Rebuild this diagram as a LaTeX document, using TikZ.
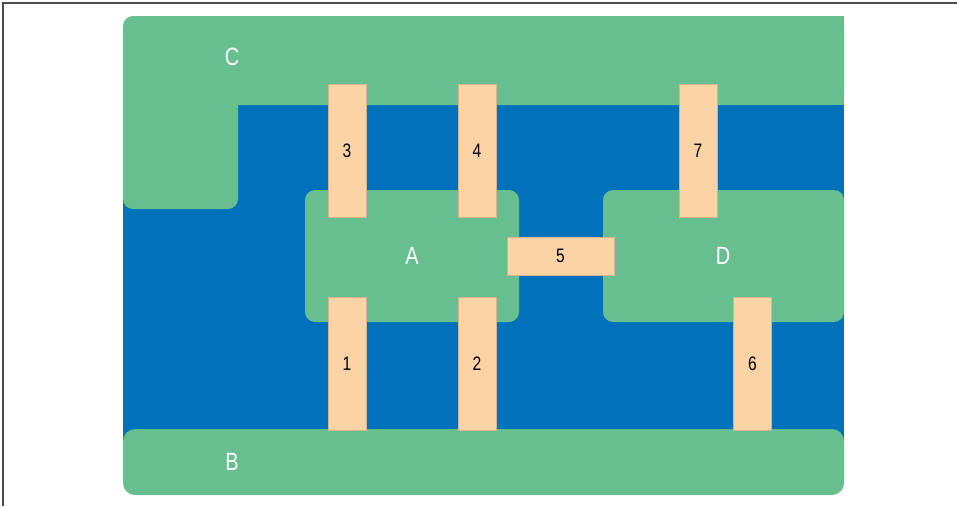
\documentclass[tikz,border=0pt]{standalone}
\usepackage{fontspec}
\setmainfont{Liberation Sans}[FakeStretch=0.8]
\definecolor{land}{RGB}{103,190,143}
\definecolor{water}{RGB}{0,114,188}
\definecolor{bridgec}{RGB}{252,211,165}
\tikzset{
  region/.style={fill=land, rounded corners=11pt},
  bridgebox/.style={rectangle, fill=bridgec, draw=bridgec!85!black, line width=0.3pt, inner sep=0pt,
    font=\fontsize{19.5}{20}\selectfont, text=black},
  vbridge/.style={bridgebox, minimum width=38pt, minimum height=133pt},
  lab/.style={font=\fontsize{25}{26}\selectfont, text=white, inner sep=0pt}
}
\begin{document}
\begin{tikzpicture}[x=1pt,y=-1pt]
\useasboundingbox (0,0) rectangle (957,506);
% frame (top and left only)
\draw[black!70, line width=1.3pt] (3,506) -- (3,3) -- (957,3);
% water
\fill[water] (123,95) rectangle (844,445);
% C
\fill[region, rounded corners=12pt] (123,16) rectangle (844,105);
\fill[land] (600,16) rectangle (844,105);
\fill[region, rounded corners=10pt] (123,16) rectangle (238,209);
\fill[land] (123,40) rectangle (238,150);
% B
\fill[region, rounded corners=12pt] (123,429) rectangle (844,495);
% A, D
\fill[region, rounded corners=10pt] (305,190) rectangle (519,322);
\fill[region, rounded corners=10pt] (603,190) rectangle (844,322);
% labels
\node[lab] (C) at (232,57) {C};
\node[lab] (B) at (232,462) {B};
\node[lab] (A) at (412,256) {A};
\node[lab] (D) at (723,256) {D};
% bridges
\node[vbridge] (b3) at (347,150.5) {3};
\node[vbridge] (b4) at (477,150.5) {4};
\node[vbridge] (b7) at (698,150.5) {7};
\node[vbridge] (b1) at (347,364) {1};
\node[vbridge] (b2) at (477,364) {2};
\node[vbridge] (b6) at (752.5,363.5) {6};
\node[bridgebox, minimum width=107pt, minimum height=38pt] (b5) at (560.5,256) {5};
\end{tikzpicture}
\end{document}
